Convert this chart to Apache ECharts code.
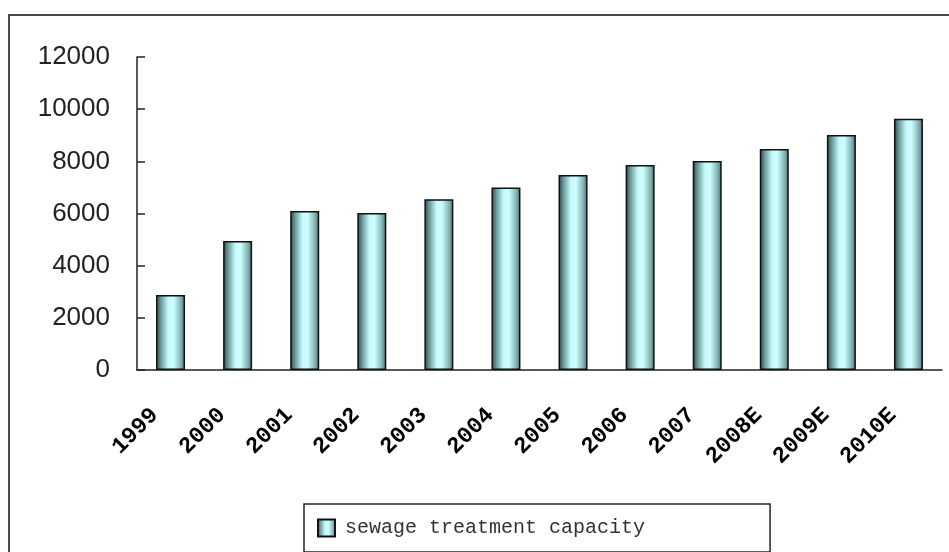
<!DOCTYPE html>
<html>
<head>
<meta charset="utf-8">
<script src="https://cdn.jsdelivr.net/npm/echarts@6/dist/echarts.min.js"></script>
<style>html,body{margin:0;padding:0;background:#fff}#c{width:949px;height:552px}</style>
</head>
<body>
<div id="c"></div>
<script>
const categories = ['1999','2000','2001','2002','2003','2004','2005','2006','2007','2008E','2009E','2010E'];
const capacity = [2880, 4950, 6100, 6020, 6550, 7000, 7480, 7860, 8010, 8470, 9010, 9630];
const seriesName = 'sewage treatment capacity';

const barGradient = new echarts.graphic.LinearGradient(0, 0, 1, 0, [
  {offset: 0, color: '#2c4848'},
  {offset: 0.18, color: '#6e9e9e'},
  {offset: 0.42, color: '#c6fafa'},
  {offset: 0.6, color: '#ccffff'},
  {offset: 0.85, color: '#86b4b4'},
  {offset: 1, color: '#4a6c6c'}
]);

const chart = echarts.init(document.getElementById('c'));
chart.setOption({
  animation: false,
  backgroundColor: '#fff',
  graphic: [{
    type: 'rect',
    shape: {x: 9, y: 15, width: 980, height: 600},
    style: {fill: 'none', stroke: '#4a4a4a', lineWidth: 2},
    silent: true
  }],
  grid: {left: 137, top: 57, right: 7, bottom: 182, containLabel: false},
  legend: {
    left: 304, top: 504,
    data: [{name: seriesName, icon: 'rect'}],
    itemWidth: 17, itemHeight: 17, itemGap: 10,
    borderColor: '#222', borderWidth: 1.5,
    padding: [14, 125, 14, 13],
    textStyle: {fontFamily: 'Liberation Mono', fontSize: 20, color: '#333', padding: [0, 0, 0, 5]}
  },
  xAxis: {
    type: 'category',
    data: categories,
    axisLine: {lineStyle: {color: '#222', width: 1.5}},
    axisTick: {inside: true, length: 8, lineStyle: {color: '#222', width: 1.5}},
    axisLabel: {
      rotate: 45, interval: 0, margin: 26,
      fontFamily: 'Liberation Mono', fontWeight: 'bold', fontSize: 23, color: '#000',
      padding: [0, 22, 0, 0]
    }
  },
  yAxis: {
    type: 'value', min: 0, max: 12000, interval: 2000,
    axisLine: {show: true, lineStyle: {color: '#222', width: 1.5}},
    axisTick: {show: true, inside: true, length: 8, lineStyle: {color: '#222', width: 1.5}},
    splitLine: {show: false},
    axisLabel: {margin: 27, fontFamily: 'Liberation Sans', fontSize: 26, color: '#222',
      formatter: function (v) { return String(v); }}
  },
  series: [{
    name: seriesName,
    type: 'bar',
    data: capacity,
    barWidth: 29,
    itemStyle: {color: barGradient, borderColor: '#111', borderWidth: 1.5}
  }]
});
</script>
</body>
</html>
